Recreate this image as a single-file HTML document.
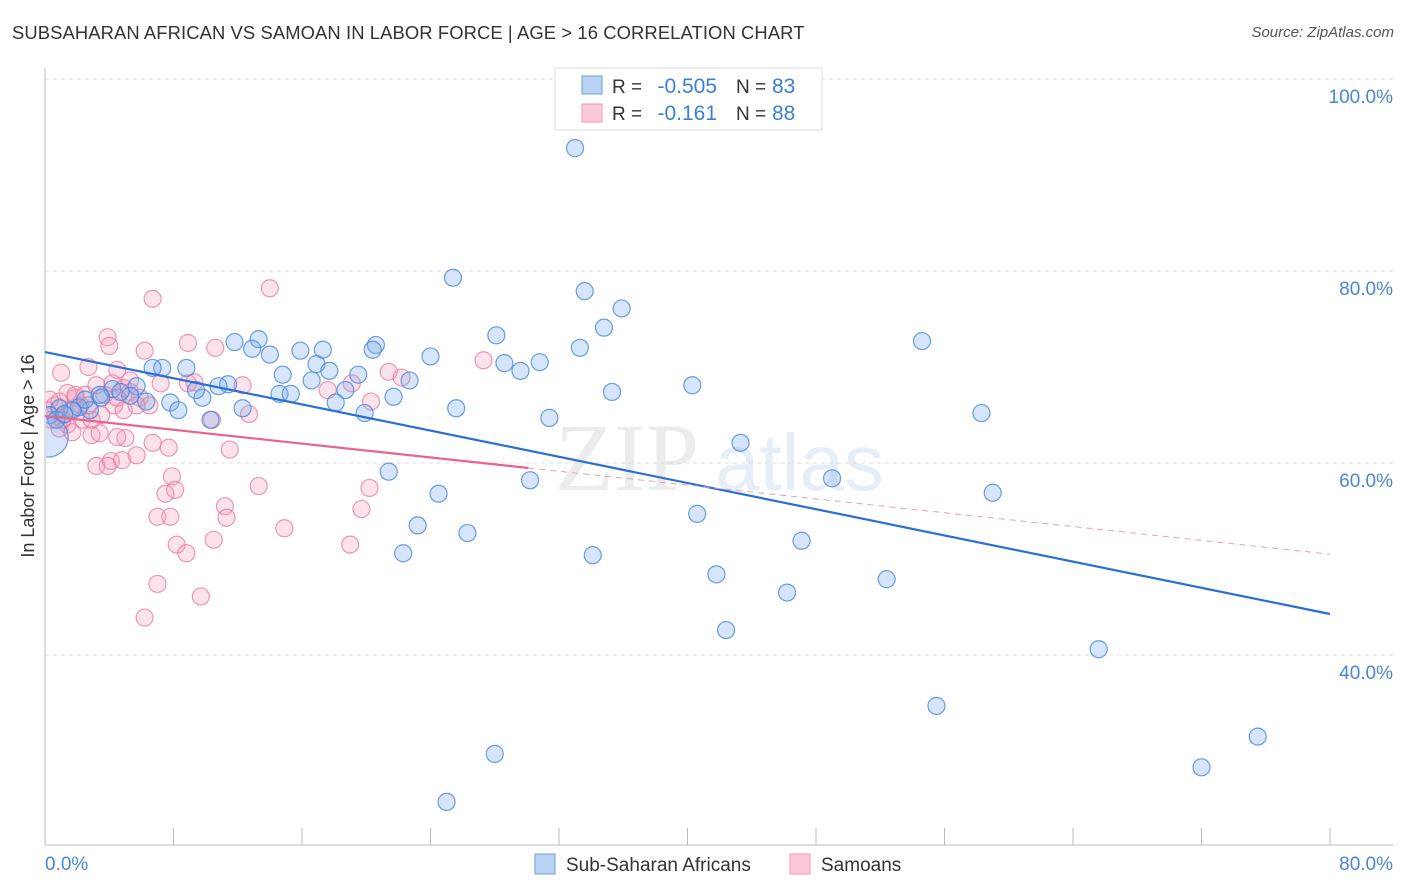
<!DOCTYPE html>
<html><head><meta charset="utf-8"><style>
body{margin:0;background:#fff;font-family:"Liberation Sans",sans-serif;}
#wrap{position:relative;width:1406px;height:892px;overflow:hidden;}
.t{position:absolute;white-space:nowrap;}
</style></head><body>
<div id="wrap">
<div class="t" style="left:12px;top:22px;font-size:18.4px;color:#333;letter-spacing:0.1px">SUBSAHARAN AFRICAN VS SAMOAN IN LABOR FORCE | AGE &gt; 16 CORRELATION CHART</div>
<div class="t" style="right:12px;top:24px;font-size:15px;color:#555;font-style:italic">Source: ZipAtlas.com</div>
<svg id="svg" width="1406" height="892" style="position:absolute;left:0;top:0"></svg>
</div>
<script>
const yTicks=[100,80,60,40];
const xTickVals=[0,8,16,24,32,40,48,56,64,72,80];
const blueX=[33.0,25.4,33.6,35.9,34.8,28.1,33.3,24.0,28.6,30.8,29.6,54.6,40.3,35.3,58.3,31.4,43.3,25.6,21.4,30.2,49.0,59.0,24.5,40.6,23.2,26.3,47.1,22.3,34.1,41.8,52.4,46.2,42.4,65.6,55.5,75.5,28.0,72.0,25.0,11.8,13.3,12.9,14.0,15.9,17.3,16.9,17.7,19.5,20.6,20.4,14.8,16.6,18.7,21.7,22.7,18.1,19.9,14.6,15.3,12.3,11.4,10.8,9.8,9.4,10.3,8.8,7.3,6.7,7.8,8.3,6.3,5.7,5.3,4.2,3.5,2.8,2.1,1.7,0.9,0.3,0.7,1.2,2.5,4.7,3.4,0.2];
const blueY=[92.8,79.3,77.9,76.1,74.1,73.3,72.0,71.1,70.4,70.5,69.6,72.7,68.1,67.4,65.2,64.7,62.1,65.7,59.1,58.2,58.4,56.9,56.8,54.7,53.5,52.7,51.9,50.6,50.4,48.4,47.9,46.5,42.6,40.6,34.7,31.5,29.7,28.3,24.7,72.6,72.9,71.9,71.3,71.7,71.8,70.3,69.6,69.2,72.3,71.8,69.2,68.6,67.6,66.9,68.6,66.3,65.2,67.2,67.2,65.7,68.2,68.0,66.8,67.6,64.5,69.9,69.9,69.9,66.3,65.5,66.4,68.0,67.0,67.7,66.8,65.5,65.8,65.5,65.7,65.0,64.5,65.1,66.6,67.4,67.1,62.7];
const pinkX=[6.7,14.0,3.9,4.0,8.9,10.6,6.2,1.0,2.7,4.5,7.2,8.9,9.3,12.3,17.6,19.1,21.4,22.2,27.3,20.3,12.7,10.4,11.5,5.0,6.7,5.7,4.1,3.2,3.9,7.7,7.9,8.1,7.5,13.3,20.2,11.2,11.3,7.0,7.8,19.7,14.9,10.5,8.2,8.8,19.0,7.0,9.7,6.2,4.8,2.9,3.4,4.5,2.3,1.4,0.9,1.7,1.2,0.6,0.1,0.4,1.9,2.5,3.2,4.2,4.9,5.3,5.9,6.5,4.3,4.9,2.2,3.5,2.9,1.4,1.9,2.7,0.9,0.3,1.6,1.1,4.5,5.3,5.7,3.7];
const pinkY=[77.1,78.2,73.1,72.2,72.5,72.0,71.7,69.4,70.0,69.7,68.3,68.3,68.4,68.1,67.6,68.3,69.5,68.9,70.7,66.4,65.1,64.5,61.4,62.6,62.1,60.8,60.2,59.7,59.7,61.6,58.6,57.2,56.8,57.6,57.4,55.5,54.3,54.4,54.4,55.2,53.2,52.0,51.5,50.6,51.5,47.4,46.1,43.9,60.3,62.9,63.1,62.7,64.5,64.0,63.6,63.2,65.0,66.0,65.5,64.5,66.8,67.1,68.1,68.3,67.8,67.4,66.8,66.0,66.0,65.5,66.0,65.0,64.5,67.3,67.1,66.0,66.4,66.6,65.5,64.5,66.8,68.6,66.0,67.1];
const blueTrend=[71.56,44.27];
const pinkTrend=[64.9,50.5];
const pinkSolidEnd=30.1;

const X0=45,X1=1330,Y100=79,PX_PER=9.6;
const sx=v=>X0+(v/80)*(X1-X0);
const sy=v=>Y100+(100-v)*PX_PER;
const NS="http://www.w3.org/2000/svg";
const svg=document.getElementById('svg');
function mk(tag,attrs,parent){const e=document.createElementNS(NS,tag);for(const k in attrs)e.setAttribute(k,attrs[k]);(parent||svg).appendChild(e);return e;}

const defs=mk('defs',{});
const cp=mk('clipPath',{id:'clip'},defs);
mk('rect',{x:46,y:60,width:1360,height:785},cp);

// watermark
let wm=mk('text',{x:555,y:490,'font-size':96,'font-family':'Liberation Serif, serif',fill:'#ececec'});
wm.textContent='ZIP';


let wm2=mk('text',{x:715,y:490,'font-size':80,'font-family':'Liberation Sans, sans-serif',fill:'#e6eef8'});
wm2.textContent='atlas';



// grid
yTicks.forEach(v=>{
  let l=mk('line',{x1:X0,x2:1393,y1:sy(v),y2:sy(v),stroke:'#ddd','stroke-dasharray':'4,4'});
  
  
  let t=mk('text',{x:1393,y:sy(v)+24,'text-anchor':'end','font-size':19,fill:'#4a86d8','font-family':'Liberation Sans, sans-serif'});
  t.textContent=v.toFixed(1)+'%';
  
  
});
// axes
let ya=mk('line',{x1:X0,x2:X0,y1:68,y2:845,stroke:'#bbb'});


let xa=mk('line',{x1:X0,x2:1393,y1:845,y2:845,stroke:'#bbb'});


xTickVals.forEach(v=>{
  let l=mk('line',{x1:sx(v),x2:sx(v),y1:828,y2:845,stroke:'#bbb'});
  
  
});
let xl0=mk('text',{x:45,y:870,'font-size':19,fill:'#4a86d8'});xl0.textContent='0.0%';


let xl1=mk('text',{x:1393,y:870,'font-size':19,fill:'#4a86d8','text-anchor':'end'});xl1.textContent='80.0%';


let yt=mk('text',{x:0,y:0,'font-size':18,fill:'#333',transform:'translate(34,456) rotate(-90)','text-anchor':'middle'});
yt.textContent='In Labor Force | Age > 16';



const pg=mk('g',{'clip-path':'url(#clip)'});


// points
pinkX.forEach((x,i)=>{
  let c=mk('circle',{cx:sx(x),cy:sy(pinkY[i]),r:8.5,fill:'rgba(244,160,188,0.3)',stroke:'rgba(232,120,158,0.75)','stroke-width':1.2},pg);
  
  
});
blueX.forEach((x,i)=>{
  let r=(i===blueX.length-1)?20:8.5;
  let c=mk('circle',{cx:sx(x),cy:sy(blueY[i]),r:r,fill:'rgba(120,170,235,0.3)',stroke:'rgba(70,135,220,0.8)','stroke-width':1.2},pg);
  
  
});
// trends
const pAt=x=>pinkTrend[0]+(pinkTrend[1]-pinkTrend[0])*x/80;
let bt=mk('line',{x1:sx(0),y1:sy(blueTrend[0]),x2:sx(80),y2:sy(blueTrend[1]),stroke:'#2a6fd6','stroke-width':2.2});


let ps=mk('line',{x1:sx(0),y1:sy(pAt(0)),x2:sx(pinkSolidEnd),y2:sy(pAt(pinkSolidEnd)),stroke:'#e8648e','stroke-width':2.2});


let pd=mk('line',{x1:sx(pinkSolidEnd),y1:sy(pAt(pinkSolidEnd)),x2:sx(80),y2:sy(pAt(80)),stroke:'#e8a0b8','stroke-width':1,'stroke-dasharray':'6,5'});



// top legend
let lg=mk('g',{});


mk('rect',{x:555,y:68,width:267,height:62,fill:'#fff',stroke:'#ddd'},lg);
mk('rect',{x:582,y:76,width:20,height:18,fill:'#b9d3f5',stroke:'#6a9fe0'},lg);
mk('rect',{x:582,y:104,width:20,height:18,fill:'#fbcad9',stroke:'#ee9ab6'},lg);
const rows=[['R = ','-0.505','N = ','83',93],['R = ','-0.161','N = ','88',120]];
rows.forEach(r=>{
  let a=mk('text',{x:612,y:r[4],'font-size':19,fill:'#333'},lg);a.textContent=r[0];
  let b=mk('text',{x:717,y:r[4],'font-size':21,fill:'#3b7fd9','text-anchor':'end'},lg);b.textContent=r[1];
  let c=mk('text',{x:736,y:r[4],'font-size':19,fill:'#333'},lg);c.textContent=r[2];
  let d=mk('text',{x:772,y:r[4],'font-size':21,fill:'#3b7fd9'},lg);d.textContent=r[3];
});
// bottom legend
let bl=mk('g',{});


mk('rect',{x:535,y:854,width:20,height:20,fill:'#b9d3f5',stroke:'#6a9fe0'},bl);
let t1=mk('text',{x:566,y:871,'font-size':19,fill:'#333'},bl);t1.textContent='Sub-Saharan Africans';
mk('rect',{x:790,y:854,width:20,height:20,fill:'#fbcad9',stroke:'#ee9ab6'},bl);
let t2=mk('text',{x:821,y:871,'font-size':19,fill:'#333'},bl);t2.textContent='Samoans';
</script>
</body></html>
